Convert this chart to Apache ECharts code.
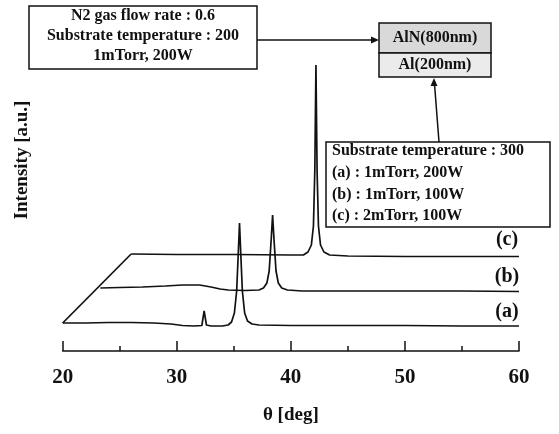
<!DOCTYPE html>
<html lang="en">
<head>
    <meta charset="UTF-8">
    <title>XRD patterns of AlN films</title>
    <style>
        html, body { margin: 0; padding: 0; background: #fff; }
        #myEcharts { width: 559px; height: 434px; }
    </style>
    <script src="https://cdn.jsdelivr.net/npm/echarts@6/dist/echarts.min.js"></script>
</head>
<body>
<div id="myEcharts"></div>
<script>
    // x axis ticks (deg)
    var xTicks = [20, 30, 40, 50, 60];

    // curve (a): 1mTorr, 200W  -> [theta, intensity]
    var curveA = [[20, 28], [22, 28], [24, 28.5], [26, 28.5], [28, 28], [29.5, 27], [30.5, 25.5],
        [31.5, 25], [32.2, 25.5], [32.3, 33], [32.4, 40], [32.5, 33], [32.6, 26], [33, 25], [34, 25],
        [34.5, 26], [34.8, 29], [35.05, 38], [35.25, 60], [35.4, 100], [35.5, 128], [35.6, 100],
        [35.75, 60], [35.95, 38], [36.2, 30], [36.6, 27], [37.2, 26], [40, 25.5], [45, 25.5],
        [50, 25.5], [55, 25], [60, 25]];

    // curve (b): 1mTorr, 100W
    var curveB = [[23.3, 63], [25, 63.5], [27, 64], [29, 65], [30.5, 66], [32, 66], [33, 64],
        [33.8, 62], [34.5, 61], [36, 60.5], [37.2, 61], [37.6, 63], [37.9, 68], [38.1, 80],
        [38.28, 112], [38.4, 136], [38.52, 112], [38.7, 80], [38.9, 68], [39.2, 63], [39.7, 61],
        [41, 60], [45, 60], [50, 60], [55, 60], [60, 59.5]];

    // curve (c): 2mTorr, 100W
    var curveC = [[26, 97], [30, 96.5], [35, 96.5], [40, 96], [41.1, 96], [41.5, 99],
        [41.8, 106], [41.98, 125], [42.1, 180], [42.2, 286], [42.3, 180], [42.42, 125],
        [42.6, 106], [42.9, 99], [43.4, 96], [45, 95], [50, 94.5], [55, 94.5], [60, 94.5]];

    // slanted edge joining the curve starts
    var edgeLine = [[20, 28], [26, 97]];

    var curveNames = ['(a)', '(b)', '(c)'];
    var legendLines = ['Substrate temperature : 300', '(a) : 1mTorr, 200W',
        '(b) : 1mTorr, 100W', '(c) : 2mTorr, 100W'];
    var boxLines = ['N2 gas flow rate : 0.6', 'Substrate temperature : 200', '1mTorr, 200W'];

    var serif = '"Liberation Serif", "DejaVu Serif", serif';

    var myChart = echarts.init(document.getElementById('myEcharts'));

    function lineSeries(data) {
        return {
            type: 'line',
            data: data,
            symbol: 'none',
            smooth: false,
            lineStyle: {color: '#111', width: 1.7},
            silent: true
        };
    }

    function boldText(x, y, text, size, align) {
        return {
            type: 'text', x: x, y: y,
            style: {
                text: text, fill: '#111', font: 'bold ' + size + 'px ' + serif,
                textAlign: align || 'center', textVerticalAlign: 'middle'
            }
        };
    }

    var graphics = [];
    // top left box
    graphics.push({
        type: 'rect', shape: {x: 29, y: 6, width: 228, height: 63},
        style: {fill: '#fff', stroke: '#111', lineWidth: 1.5}
    });
    boxLines.forEach(function (t, i) {
        graphics.push(boldText(143, 16 + i * 20, t, 16));
    });
    // arrow to layer box
    graphics.push({type: 'line', shape: {x1: 257, y1: 40, x2: 374, y2: 40}, style: {stroke: '#111', lineWidth: 1.5}});
    graphics.push({type: 'polygon', shape: {points: [[379, 40], [371, 36.5], [371, 43.5]]}, style: {fill: '#111'}});

    // layer box AlN / Al
    graphics.push({
        type: 'rect', shape: {x: 379, y: 23, width: 112, height: 30},
        style: {fill: '#d9d9d9', stroke: '#111', lineWidth: 1.5}
    });
    graphics.push({
        type: 'rect', shape: {x: 379, y: 53, width: 112, height: 24},
        style: {fill: '#ebebeb', stroke: '#111', lineWidth: 1.5}
    });
    graphics.push(boldText(435, 38, 'AlN(800nm)', 16));
    graphics.push(boldText(435, 65, 'Al(200nm)', 16));

    // arrow from right box up to layer box
    graphics.push({type: 'line', shape: {x1: 439, y1: 142, x2: 434.5, y2: 84}, style: {stroke: '#111', lineWidth: 1.5}});
    graphics.push({type: 'polygon', shape: {points: [[434, 78], [430.5, 86], [437.5, 86]]}, style: {fill: '#111'}});

    // right legend box
    graphics.push({
        type: 'rect', shape: {x: 326, y: 142, width: 224, height: 85},
        style: {fill: '#fff', stroke: '#111', lineWidth: 1.5}
    });
    legendLines.forEach(function (t, i) {
        graphics.push(boldText(332, 151 + i * 21.7, t, 16, 'left'));
    });

    // curve labels
    var labelY = [312, 277, 240];
    curveNames.forEach(function (t, i) {
        graphics.push(boldText(507, labelY[i], t, 20));
    });

    // y axis title
    graphics.push({
        type: 'text', x: 22, y: 160, rotation: Math.PI / 2,
        style: {
            text: 'Intensity [a.u.]', fill: '#111', font: 'bold 19px ' + serif,
            textAlign: 'center', textVerticalAlign: 'middle'
        }
    });

    var option = {
        animation: false,
        backgroundColor: '#fff',
        grid: {left: 62.7, right: 40, top: 51, bottom: 83},
        xAxis: {
            type: 'value',
            min: xTicks[0],
            max: xTicks[xTicks.length - 1],
            interval: 10,
            name: 'θ [deg]',
            nameLocation: 'middle',
            nameGap: 55,
            nameTextStyle: {color: '#111', fontFamily: serif, fontWeight: 'bold', fontSize: 19},
            axisLine: {lineStyle: {color: '#111', width: 1.5}},
            axisTick: {inside: true, length: 10, lineStyle: {color: '#111', width: 1.5}},
            minorTick: {show: true, splitNumber: 2, length: 5, lineStyle: {color: '#111', width: 1.5}},
            axisLabel: {color: '#111', fontFamily: serif, fontWeight: 'bold', fontSize: 21, margin: 16},
            splitLine: {show: false}
        },
        yAxis: {
            type: 'value',
            min: 0,
            max: 300,
            show: false
        },
        series: [lineSeries(curveA), lineSeries(curveB), lineSeries(curveC), lineSeries(edgeLine)],
        graphic: graphics
    };

    myChart.setOption(option);
</script>
</body>
</html>
